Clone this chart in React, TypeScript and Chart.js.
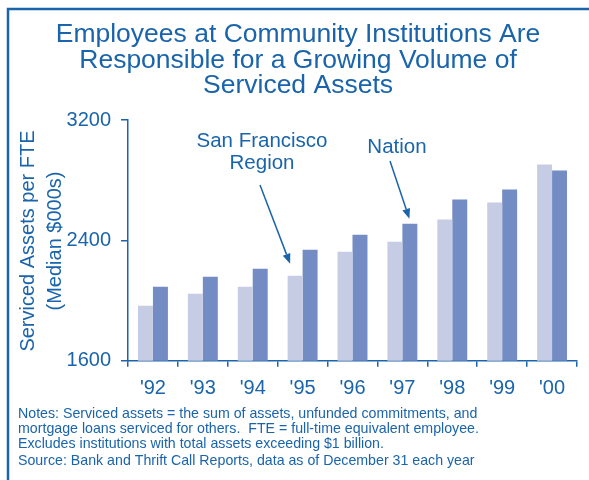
import React, { useEffect, useRef } from "react";
import { Chart, registerables } from "chart.js";

Chart.register(...registerables);

const categories = ["'92", "'93", "'94", "'95", "'96", "'97", "'98", "'99", "'00"];
const sanFrancisco = [1965, 2045, 2091, 2165, 2325, 2391, 2538, 2651, 2905];
const nation = [2091, 2158, 2211, 2338, 2438, 2511, 2671, 2738, 2865];
const yTicks = [1600, 2400, 3200];
const titleLines = [
  "Employees at Community Institutions Are",
  "Responsible for a Growing Volume of",
  "Serviced Assets",
];
const yTitleLines = ["Serviced Assets per FTE", "(Median $000s)"];
const noteLines = [
  "Notes: Serviced assets = the sum of assets, unfunded commitments, and",
  "mortgage loans serviced for others.  FTE = full-time equivalent employee.",
  "Excludes institutions with total assets exceeding $1 billion.",
  "Source: Bank and Thrift Call Reports, data as of December 31 each year",
];

const BLUE = "#1a64ab";
const FONT = "'Liberation Sans', Arial, Helvetica, sans-serif";

function arrow(ctx: CanvasRenderingContext2D, x1: number, y1: number, x2: number, y2: number) {
  ctx.save();
  ctx.strokeStyle = BLUE;
  ctx.fillStyle = BLUE;
  ctx.lineWidth = 1.5;
  const ang = Math.atan2(y2 - y1, x2 - x1);
  const hl = 10;
  const bx = x2 - hl * Math.cos(ang);
  const by = y2 - hl * Math.sin(ang);
  ctx.beginPath();
  ctx.moveTo(x1, y1);
  ctx.lineTo(bx, by);
  ctx.stroke();
  ctx.beginPath();
  ctx.moveTo(x2, y2);
  ctx.lineTo(bx + 4 * Math.cos(ang + Math.PI / 2), by + 4 * Math.sin(ang + Math.PI / 2));
  ctx.lineTo(bx + 4 * Math.cos(ang - Math.PI / 2), by + 4 * Math.sin(ang - Math.PI / 2));
  ctx.closePath();
  ctx.fill();
  ctx.restore();
}

const decor = {
  id: "decor",
  afterDraw(chart: any) {
    const ctx: CanvasRenderingContext2D = chart.ctx;
    const x = chart.scales.x;
    const y = chart.scales.y;
    ctx.save();
    // frame
    ctx.strokeStyle = BLUE;
    ctx.lineWidth = 2.5;
    ctx.beginPath();
    ctx.moveTo(8, 480);
    ctx.lineTo(8, 9);
    ctx.lineTo(589, 9);
    ctx.stroke();

    ctx.fillStyle = BLUE;
    // title
    ctx.font = `26.5px ${FONT}`;
    ctx.textAlign = "center";
    ctx.textBaseline = "alphabetic";
    titleLines.forEach((t, i) => ctx.fillText(t, 298, 42 + i * 25.5));

    // y title
    ctx.save();
    ctx.translate(0, 241);
    ctx.rotate(-Math.PI / 2);
    ctx.font = `20px ${FONT}`;
    ctx.textBaseline = "middle";
    ctx.fillText(yTitleLines[0], 0, 28);
    ctx.fillText(yTitleLines[1], 0, 55);
    ctx.restore();

    // annotations
    ctx.font = `20.5px ${FONT}`;
    ctx.textAlign = "center";
    ctx.fillText("San Francisco", 262, 147);
    ctx.fillText("Region", 262, 169);
    ctx.fillText("Nation", 397, 153);

    const sfX = x.getPixelForValue(3) - 12.5;
    const sfY = y.getPixelForValue(sanFrancisco[3]) - 12;
    arrow(ctx, 260, 185, sfX, sfY);
    const nX = x.getPixelForValue(5) + 7;
    const nY = y.getPixelForValue(nation[5]) - 5;
    arrow(ctx, 390, 161, nX, nY);

    // notes
    ctx.font = `14.2px ${FONT}`;
    ctx.textAlign = "left";
    const ys = [418, 433, 448, 465];
    noteLines.forEach((t, i) => ctx.fillText(t, 18, ys[i]));
    ctx.restore();
  },
};

export default function App() {
  const ref = useRef<HTMLCanvasElement>(null);
  useEffect(() => {
    if (!ref.current) return;
    const chart = new Chart(ref.current, {
      type: "bar",
      data: {
        labels: categories,
        datasets: [
          { label: "San Francisco Region", data: sanFrancisco, backgroundColor: "#c7cce5" },
          { label: "Nation", data: nation, backgroundColor: "#738cc3" },
        ],
      },
      options: {
        animation: false,
        responsive: false,
        layout: { padding: { top: 120, right: 12, left: 0, bottom: 0 } },
        plugins: { legend: { display: false }, tooltip: { enabled: false }, title: { display: false } },
        datasets: { bar: { categoryPercentage: 0.6, barPercentage: 1 } },
        scales: {
          x: {
            afterFit: (s: any) => { s.height = 119.3; },
            grid: { display: true, drawOnChartArea: false, offset: true, tickLength: 6, color: BLUE, lineWidth: 1.5 },
            border: { color: BLUE, width: 1.5 },
            ticks: { color: BLUE, font: { size: 20, family: FONT }, padding: 10 },
          },
          y: {
            min: 1600,
            max: 3200,
            afterFit: (s: any) => { s.width = 128; },
            afterBuildTicks: (s: any) => { s.ticks = yTicks.map((v) => ({ value: v })); },
            grid: { display: true, drawOnChartArea: false, tickLength: 7, color: BLUE, lineWidth: 1.5 },
            border: { color: BLUE, width: 1.5 },
            ticks: { color: BLUE, font: { size: 20, family: FONT }, padding: 10, callback: (v: any) => String(v) },
          },
        },
      },
      plugins: [decor],
    });
    return () => chart.destroy();
  }, []);
  return (
    <div style={{ position: "fixed", left: 0, top: 0, width: 589, height: 480, background: "#fff" }}>
      <canvas ref={ref} width={589} height={480} style={{ display: "block" }} />
    </div>
  );
}
